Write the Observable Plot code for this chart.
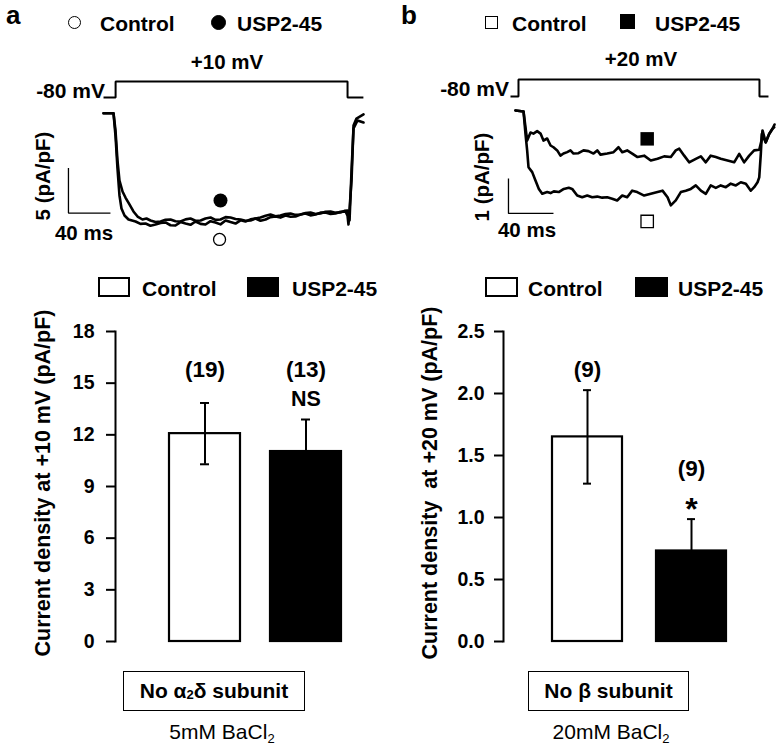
<!DOCTYPE html>
<html>
<head>
<meta charset="utf-8">
<script src="https://cdn.jsdelivr.net/npm/d3@7"></script>
<script src="https://cdn.jsdelivr.net/npm/@observablehq/plot@0.6"></script>
<style>
html,body{margin:0;padding:0;background:#fff;}
#fig{position:relative;width:777px;height:749px;overflow:hidden;background:#fff;font-family:"Liberation Sans",Arial,Helvetica,sans-serif;color:#000;}
#fig > svg{position:absolute;left:0;top:0;}
.lbl{position:absolute;white-space:pre;line-height:1;}
.sub{font-size:0.62em;position:relative;top:0.3em;}
.shape{position:absolute;box-sizing:border-box;}
.boxed{position:absolute;box-sizing:border-box;border:1.5px solid #000;display:flex;align-items:center;justify-content:center;font-weight:bold;font-size:21px;white-space:pre;}
</style>
</head>
<body>
<div id="fig"></div>
<script>
// ---------------- DATA ----------------
const groups = ["Control", "USP2-45"];

// Panel a bar chart (current density at +10 mV, pA/pF)
const meanA = [12.07, 11.03];
const semA = [1.78, 1.86];
const nA = ["(19)", "(13)"];
const sigA = ["", "NS"];
const ticksA = [0, 3, 6, 9, 12, 15, 18];

// Panel b bar chart (current density at +20 mV, pA/pF)
const meanB = [1.65, 0.73];
const semB = [0.377, 0.257];
const nB = ["(9)", "(9)"];
const sigB = ["", "*"];
const ticksB = [0, 0.5, 1.0, 1.5, 2.0, 2.5];

// Panel a current traces [time ms, current pA/pF]
const traceA_control = [[-9.5,0],[0,0],[1.9,-2.48],[3.8,-6.14],[5.7,-9.14],[7.6,-10.59],[10.5,-11.37],[14.3,-11.81],[21,-12.03],[25.7,-12.3],[30.5,-12.26],[35.2,-12.5],[40,-12.37],[44.8,-12.2],[49.5,-12.14],[54.3,-12.45],[59,-12.48],[63.8,-12.1],[68.6,-12.26],[73.3,-12.4],[78.1,-12.03],[82.9,-12.3],[87.6,-12.37],[92.4,-12.0],[97.1,-12.14],[101.9,-12.35],[106.7,-11.92],[111.4,-12.1],[116.2,-12.26],[121,-11.9],[125.7,-12.03],[130.5,-11.8],[135.2,-11.7],[140,-11.95],[144.8,-11.81],[149.5,-11.55],[154.3,-11.48],[159,-11.6],[163.8,-11.37],[168.6,-11.5],[173.3,-11.48],[178.1,-11.25],[182.9,-11.14],[187.6,-11.35],[192.4,-11.26],[197.1,-11.05],[201.9,-11.03],[206.7,-11.2],[211.4,-11.14],[216.2,-10.95],[221,-10.92],[222.9,-11.4],[223.8,-12.37],[226.7,-7.48],[228.6,-1.37],[231.4,-0.59],[238.1,-0.14]];
const traceA_usp = [[-9.5,0],[0,0],[1.9,-1.92],[3.8,-5.26],[5.7,-7.48],[8.6,-8.7],[11.4,-9.37],[15.2,-10.14],[19,-10.92],[22.9,-11.48],[27.6,-11.81],[31.4,-11.7],[35.2,-11.92],[40,-12.1],[44.8,-12.03],[49.5,-11.85],[54.3,-11.81],[59,-12.0],[63.8,-12.03],[68.6,-11.8],[73.3,-11.7],[78.1,-11.95],[82.9,-11.92],[87.6,-11.7],[92.4,-11.59],[97.1,-11.85],[101.9,-11.81],[106.7,-11.55],[111.4,-11.59],[116.2,-11.75],[121,-11.81],[125.7,-11.95],[130.5,-11.92],[135.2,-11.7],[140,-11.59],[144.8,-11.4],[149.5,-11.26],[154.3,-11.45],[159,-11.37],[163.8,-11.2],[168.6,-11.14],[173.3,-11.3],[178.1,-11.26],[182.9,-11.1],[187.6,-11.03],[192.4,-11.2],[197.1,-11.14],[201.9,-10.95],[206.7,-10.92],[211.4,-11.05],[216.2,-11.03],[220,-10.85],[222.9,-10.81],[224.8,-11.92],[226.7,-6.37],[228.6,-1.7],[232.4,-0.81],[238.1,-1.03]];
// Panel a voltage protocol [time ms, mV]
const stepA = [[-9.5,-80],[2,-80],[2,10],[222.9,10],[222.9,-80],[238,-80]];

// Panel b current traces [time ms, current pA/pF]
const traceB_usp = [[-3.6,0],[3.6,-0.03],[6.8,-0.86],[9.8,-0.63],[12.4,-0.66],[15.7,-0.59],[18.7,-0.66],[21.3,-0.86],[24.6,-0.8],[27.6,-1.0],[30.2,-1.05],[33.5,-1.14],[36.4,-1.29],[39.1,-1.23],[42.4,-1.19],[45.3,-1.14],[48,-1.23],[52.4,-1.22],[56.9,-1.14],[61.3,-1.16],[65.8,-1.23],[69.1,-1.14],[72,-1.26],[78,-1.23],[83.6,-1.19],[88,-1.05],[91.3,-1.19],[95.7,-1.14],[100.2,-1.23],[104.9,-1.33],[110.8,-1.29],[116.7,-1.43],[122.7,-1.38],[128.6,-1.31],[134.5,-1.33],[138.9,-1.14],[142,-1.09],[146.4,-1.29],[150.8,-1.48],[156.7,-1.38],[161.2,-1.31],[165.6,-1.48],[170,-1.29],[174.5,-1.33],[178.9,-1.38],[184.9,-1.43],[190.8,-1.48],[195.3,-1.24],[199.7,-1.48],[204.2,-1.29],[208.6,-1.14],[213.1,-1.12],[215.1,-0.86],[216,-0.57],[218.9,-0.91],[221.9,-0.67],[224.9,-0.52],[226.4,-0.48]];
const traceB_control = [[-3.6,0],[3.6,-0.03],[5.3,-0.66],[6.8,-1.14],[8,-1.62],[11.3,-1.76],[14.2,-2.0],[17.2,-2.24],[20.2,-2.38],[24.6,-2.33],[27.6,-2.36],[30.5,-2.31],[34.9,-2.33],[39.4,-2.24],[43.8,-2.21],[46.8,-2.24],[51.3,-2.43],[55.7,-2.48],[60.2,-2.43],[64.6,-2.48],[69.1,-2.46],[73.5,-2.49],[78,-2.48],[82.4,-2.52],[86.8,-2.57],[91.3,-2.43],[95.7,-2.48],[100.2,-2.29],[104.6,-2.33],[110.8,-2.43],[116.7,-2.38],[122.7,-2.33],[127.1,-2.29],[131.6,-2.48],[134.5,-2.71],[138.9,-2.57],[143.4,-2.33],[147.8,-2.29],[152.3,-2.24],[156.7,-2.14],[161.2,-2.29],[165.6,-2.38],[170,-2.14],[174.5,-2.21],[178.9,-2.14],[183.4,-2.19],[187.8,-2.09],[192.3,-2.14],[196.7,-2.05],[201.2,-2.09],[205.6,-2.29],[208.6,-2.19],[211.6,-2.05],[213.1,-1.91],[214.5,-1.24],[215.4,-0.67],[218.9,-0.91],[221.9,-0.67],[224.9,-0.52],[226.7,-0.4]];
// Panel b voltage protocol [time ms, mV]
const stepB = [[-8,-80],[-0.9,-80],[-0.9,20],[213.3,20],[213.3,-80],[221.3,-80]];

// Scale bars
const scaleA = {ms: 40, current: 5};
const scaleB = {ms: 40, current: 1};

// ---------------- LAYOUT ----------------
const W = 777, H = 749;
const fig = document.getElementById("fig");
const FONT = '"Liberation Sans", Arial, Helvetica, sans-serif';

function add(p) { p.style.position = "absolute"; p.style.left = "0px"; p.style.top = "0px"; fig.appendChild(p); }

function label(html, x, y, {size = 21, weight = "bold", anchor = "middle", rotate = 0} = {}) {
  const d = document.createElement("div");
  d.className = "lbl"; d.innerHTML = html;
  d.style.fontSize = size + "px"; d.style.fontWeight = weight;
  d.style.left = x + "px"; d.style.top = y + "px";
  const tx = anchor === "start" ? "0" : anchor === "end" ? "-100%" : "-50%";
  d.style.transform = `translate(${tx},-50%)` + (rotate ? ` rotate(${rotate}deg)` : "");
  fig.appendChild(d);
}
function shape(cx, cy, w, h, {round = false, filled = false, border = 1.3} = {}) {
  const d = document.createElement("div");
  d.className = "shape";
  d.style.left = (cx - w / 2) + "px"; d.style.top = (cy - h / 2) + "px";
  d.style.width = w + "px"; d.style.height = h + "px";
  d.style.background = filled ? "#000" : "#fff";
  d.style.border = `${border}px solid #000`;
  if (round) d.style.borderRadius = "50%";
  fig.appendChild(d);
}
function boxed(html, x, y, w, h) {
  const d = document.createElement("div");
  d.className = "boxed"; d.innerHTML = html;
  d.style.left = x + "px"; d.style.top = y + "px"; d.style.width = w + "px"; d.style.height = h + "px";
  fig.appendChild(d);
}

const baseStyle = {background: "transparent", overflow: "visible", fontFamily: FONT};
const line = (data, o = {}) => Plot.line(data, {x: d => d[0], y: d => d[1], stroke: "black", strokeWidth: 2.6, strokeLinejoin: "round", strokeLinecap: "round", ...o});

// ---- Panel a: traces ----
{
  const t0 = -42.9, i0 = -11.1;
  add(Plot.plot({
    width: W, height: H, margin: 0, style: baseStyle,
    x: {domain: [-50, 250], range: [60.5, 375.5], axis: null},
    y: {domain: [-16, 2], range: [256.7, 94.7], axis: null},
    marks: [
      line(traceA_usp),
      line(traceA_control),
      line([[t0, i0 + scaleA.current], [t0, i0], [t0 + scaleA.ms, i0]], {strokeWidth: 1.3, strokeLinecap: "butt", strokeLinejoin: "miter"}),
      Plot.dot([[101.9, -9.7]], {x: d => d[0], y: d => d[1], r: 7, fill: "black"}),
      Plot.dot([[101, -14.03]], {x: d => d[0], y: d => d[1], r: 6, fill: "white", stroke: "black", strokeWidth: 1.3})
    ]
  }));
  add(Plot.plot({
    width: W, height: H, margin: 0, style: baseStyle,
    x: {domain: [-50, 250], range: [60.5, 375.5], axis: null},
    y: {domain: [-80, 10], range: [97, 81], axis: null},
    marks: [line(stepA, {strokeWidth: 2, strokeLinejoin: "miter", strokeLinecap: "butt"})]
  }));
}

// ---- Panel b: traces ----
{
  const t0 = -9.8, i0 = -2.94;
  add(Plot.plot({
    width: W, height: H, margin: 0, style: baseStyle,
    x: {domain: [-20, 240], range: [496.5, 789], axis: null},
    y: {domain: [-4, 1], range: [250, 75], axis: null},
    marks: [
      line(traceB_usp),
      line(traceB_control),
      line([[t0, i0 + scaleB.current], [t0, i0], [t0 + scaleB.ms, i0]], {strokeWidth: 1.3, strokeLinecap: "butt", strokeLinejoin: "miter"}),
      Plot.dot([[113.5, -0.81]], {x: d => d[0], y: d => d[1], r: 7.6, symbol: "square", fill: "black"}),
      Plot.dot([[113.5, -3.17]], {x: d => d[0], y: d => d[1], r: 7, symbol: "square", fill: "white", stroke: "black", strokeWidth: 1.3})
    ]
  }));
  add(Plot.plot({
    width: W, height: H, margin: 0, style: baseStyle,
    x: {domain: [-20, 240], range: [496.5, 789], axis: null},
    y: {domain: [-80, 20], range: [96, 79], axis: null},
    marks: [line(stepB, {strokeWidth: 2, strokeLinejoin: "miter", strokeLinecap: "butt"})]
  }));
}

// ---- Bar charts ----
function barChart({means, sems, ns, sigs, ticks, fmt, yMax, axisX, xRange, pad, tickPadding, nMarks}) {
  const data = groups.map((g, i) => ({group: g, mean: means[i], sem: sems[i], n: ns[i], sig: sigs[i]}));
  const top = d => d.mean + d.sem;
  return Plot.plot({
    width: W, height: H,
    marginLeft: axisX, marginRight: W - 380, marginTop: 331, marginBottom: H - 641,
    style: {...baseStyle, fontSize: "19px", fontWeight: "bold"},
    x: {domain: groups, range: xRange, paddingInner: pad, paddingOuter: 0, axis: null},
    y: {domain: [0, yMax], label: null},
    color: {domain: groups, range: ["white", "black"]},
    marks: [
      Plot.axisY({ticks, tickFormat: fmt, tickSize: 9, tickPadding, fontSize: 19.5, fontWeight: "bold", strokeWidth: 2, label: null}),
      Plot.frame({anchor: "left", strokeWidth: 2}),
      Plot.barY(data, {x: "group", y: "mean", fill: "group", stroke: "black", strokeWidth: 2.2}),
      Plot.ruleX(data, {x: "group", y1: d => d.mean - d.sem, y2: top, stroke: "black", strokeWidth: 2}),
      Plot.tickY(data, {x: "group", y: top, insetLeft: 31, insetRight: 31, strokeWidth: 2}),
      Plot.tickY(data.filter(d => d.group === "Control"), {x: "group", y: d => d.mean - d.sem, insetLeft: 31, insetRight: 31, strokeWidth: 2}),
      ...nMarks(data, top),
      Plot.text(data.filter(d => d.sig === "NS"), {x: "group", y: top, text: "sig", dy: -20, lineAnchor: "middle", fontSize: 21.5, fontWeight: "bold"}),
      Plot.text(data.filter(d => d.sig === "*"), {x: "group", y: top, text: "sig", dy: -9, lineAnchor: "middle", fontSize: 32, fontWeight: "bold"})
    ]
  });
}

add(barChart({
  means: meanA, sems: semA, ns: nA, sigs: sigA, ticks: ticksA, fmt: d3.format("d"), yMax: 18,
  axisX: 115, xRange: [169, 341], pad: 0.3, tickPadding: 12,
  nMarks: (data) => [Plot.text(data, {x: "group", frameAnchor: "top", lineAnchor: "middle", dy: 38, text: "n", fontSize: 22.5, fontWeight: "bold"})]
}));
add(barChart({
  means: meanB, sems: semB, ns: nB, sigs: sigB, ticks: ticksB, fmt: d3.format(".1f"), yMax: 2.5,
  axisX: 503, xRange: [552, 726], pad: 0.327, tickPadding: 10,
  nMarks: (data, top) => [
    Plot.text(data.filter(d => !d.sig), {x: "group", y: top, dy: -20, lineAnchor: "middle", text: "n", fontSize: 22.5, fontWeight: "bold"}),
    Plot.text(data.filter(d => d.sig), {x: "group", y: top, dy: -50, lineAnchor: "middle", text: "n", fontSize: 22.5, fontWeight: "bold"})
  ]
}));

// ---------------- TEXT & LEGENDS ----------------
// panel letters
label("a", 6, 15, {size: 26, anchor: "start"});
label("b", 401, 15, {size: 26, anchor: "start"});

// top legends
shape(74, 22.5, 13, 13, {round: true});
label("Control", 100, 22.5, {anchor: "start"});
shape(218, 22.5, 15, 15, {round: true, filled: true});
label("USP2-45", 237, 22.5, {anchor: "start"});

shape(491, 22.5, 13, 13);
label("Control", 512, 22.5, {anchor: "start"});
shape(627, 21.5, 15, 15, {filled: true});
label("USP2-45", 655, 22.5, {anchor: "start"});

// voltage labels
label("+10 mV", 227, 61.5, {size: 20.5});
label("-80 mV", 105, 89.5, {size: 21, anchor: "end"});
label("+20 mV", 641, 59, {size: 20.5});
label("-80 mV", 509, 87.5, {size: 21, anchor: "end"});

// scale bar labels
label("5 (pA/pF)", 43, 176, {size: 20.5, rotate: -90});
label("40 ms", 84, 232.5, {size: 20.5});
label("1 (pA/pF)", 482, 177, {size: 20.5, rotate: -90});
label("40 ms", 527, 229.5, {size: 20.5});

// bar legends
shape(114, 287, 32, 20, {border: 2});
label("Control", 142, 288, {anchor: "start"});
shape(263, 287, 32, 20, {filled: true, border: 2});
label("USP2-45", 292, 288, {anchor: "start"});

shape(501.5, 287, 33, 20, {border: 2});
label("Control", 528, 288, {anchor: "start"});
shape(651.5, 287, 33, 20, {filled: true, border: 2});
label("USP2-45", 678, 288, {anchor: "start"});

// y-axis titles
label("Current density at +10 mV (pA/pF)", 44, 482.5, {size: 21.5, rotate: -90});
label("Current density  at +20 mV (pA/pF)", 431, 482.5, {size: 21.5, rotate: -90});

// condition boxes
boxed('No α<span class="sub">2</span>δ subunit', 123, 671, 182, 40);
boxed('No β subunit', 528, 671, 161, 40);
label('5mM BaCl<span class="sub">2</span>', 222, 731, {size: 21, weight: "normal"});
label('20mM BaCl<span class="sub">2</span>', 611, 731, {size: 21, weight: "normal"});
</script>
</body>
</html>
